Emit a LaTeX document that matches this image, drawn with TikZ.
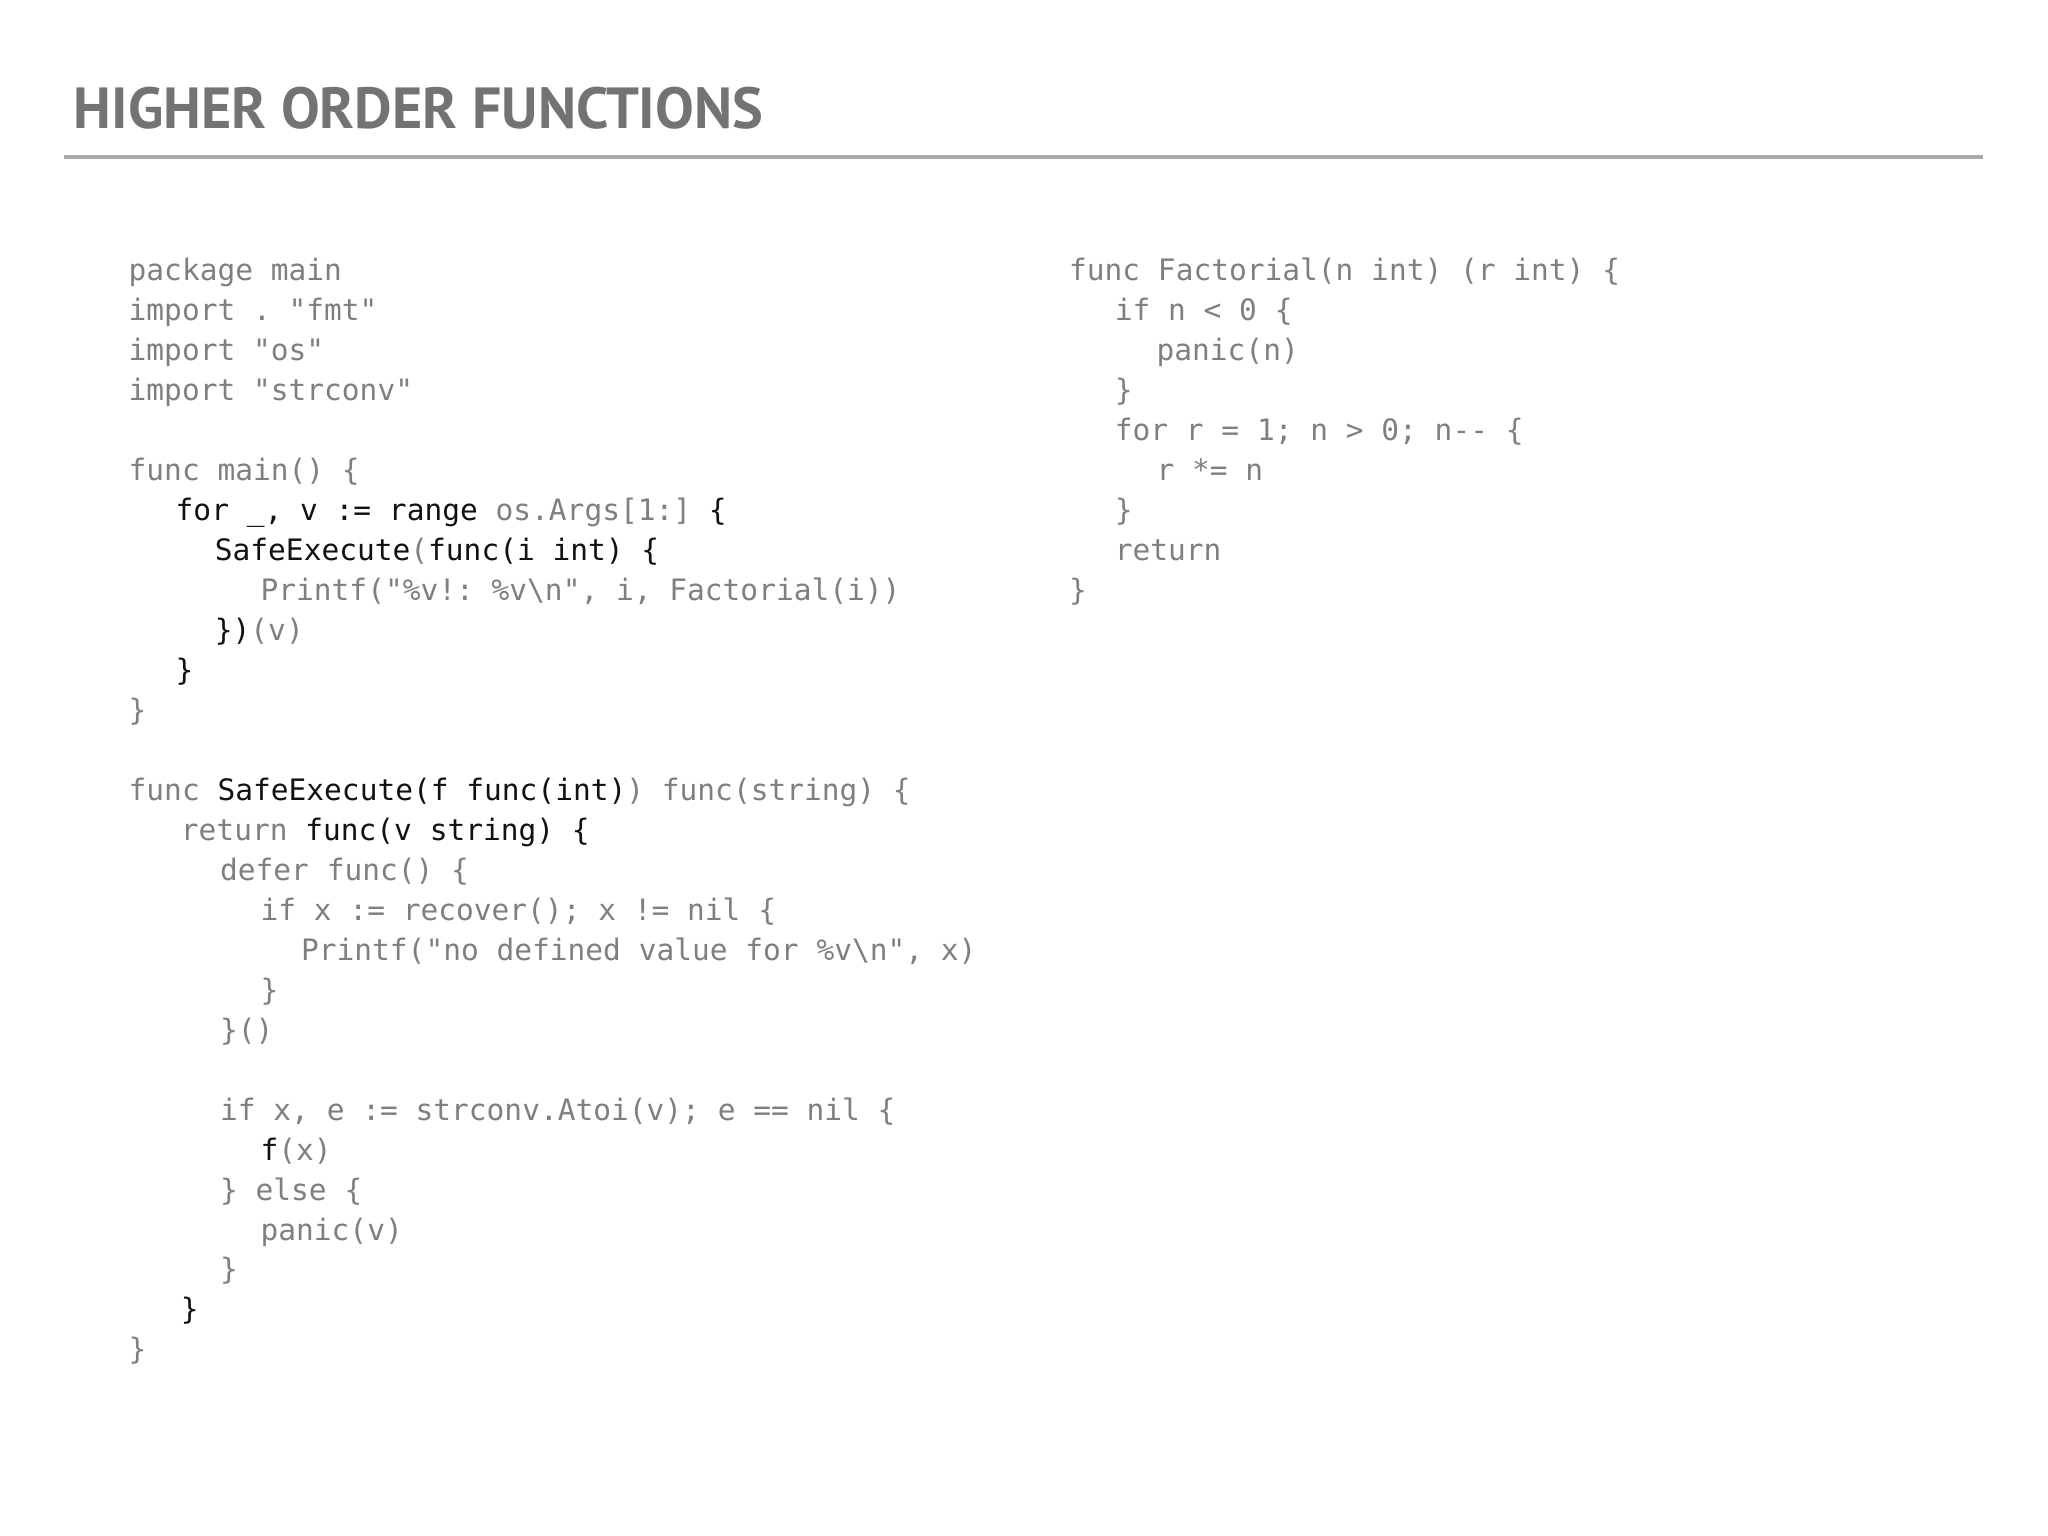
\documentclass[tikz,border=0pt]{standalone}
\usepackage{fontspec}
\setmonofont{DejaVu Sans Mono}
\setsansfont{PT Sans}
\definecolor{cg}{HTML}{7F7F7F}
\definecolor{ck}{HTML}{111111}
\definecolor{tg}{HTML}{737373}
\definecolor{rg}{HTML}{AAAAAA}
\newcommand{\B}[1]{\textcolor{ck}{#1}}
\newcommand{\codeln}[4]{\node[code] (#1) at (#2,{209+30.6*#3+6}) {#4};}
\begin{document}
\begin{tikzpicture}[x=0.013061cm,y=-0.013061cm,
  code/.style={anchor=base west,inner sep=0pt,font=\ttfamily\fontsize{8.4}{10}\selectfont,text=cg}]
\useasboundingbox (0,0) rectangle (1568,1176);
\node[anchor=west,inner sep=0pt,text=tg,font=\sffamily\bfseries\fontsize{16.5}{18}\selectfont] (title) at (56,83) {HIGHER ORDER FUNCTIONS};
\coordinate (r1) at (49,120); \coordinate (r2) at (1518,120);
\draw[rg,line width=1.1pt] (r1) -- (r2);
\codeln{a0}{98}{0}{package main}
\codeln{a1}{98}{1}{import . "fmt"}
\codeln{a2}{98}{2}{import "os"}
\codeln{a3}{98}{3}{import "strconv"}
\codeln{a5}{98}{5}{func main() \{}
\codeln{a6}{134}{6}{\B{for \_, v := range} os.Args[1:] \B{\{}}
\codeln{a7}{164}{7}{\B{SafeExecute}(\B{func(i int) \{}}
\codeln{a8}{199}{8}{Printf("\%v!: \%v\textbackslash n", i, Factorial(i))}
\codeln{a9}{164}{9}{\B{\})}(v)}
\codeln{a10}{134}{10}{\B{\}}}
\codeln{a11}{98}{11}{\}}
\codeln{a13}{98}{13}{func \B{SafeExecute(f func(int)}) func(string) \{}
\codeln{a14}{138}{14}{return \B{func(v string) \{}}
\codeln{a15}{168}{15}{defer func() \{}
\codeln{a16}{199}{16}{if x := recover(); x != nil \{}
\codeln{a17}{230}{17}{Printf("no defined value for \%v\textbackslash n", x)}
\codeln{a18}{199}{18}{\}}
\codeln{a19}{168}{19}{\}()}
\codeln{a21}{168}{21}{if x, e := strconv.Atoi(v); e == nil \{}
\codeln{a22}{199}{22}{\B{f}(x)}
\codeln{a23}{168}{23}{\} else \{}
\codeln{a24}{199}{24}{panic(v)}
\codeln{a25}{168}{25}{\}}
\codeln{a26}{138}{26}{\B{\}}}
\codeln{a27}{98}{27}{\}}
\codeln{b0}{818}{0}{func Factorial(n int) (r int) \{}
\codeln{b1}{853}{1}{if n < 0 \{}
\codeln{b2}{885}{2}{panic(n)}
\codeln{b3}{853}{3}{\}}
\codeln{b4}{853}{4}{for r = 1; n > 0; n-- \{}
\codeln{b5}{885}{5}{r *= n}
\codeln{b6}{853}{6}{\}}
\codeln{b7}{853}{7}{return}
\codeln{b8}{818}{8}{\}}
\end{tikzpicture}
\end{document}
